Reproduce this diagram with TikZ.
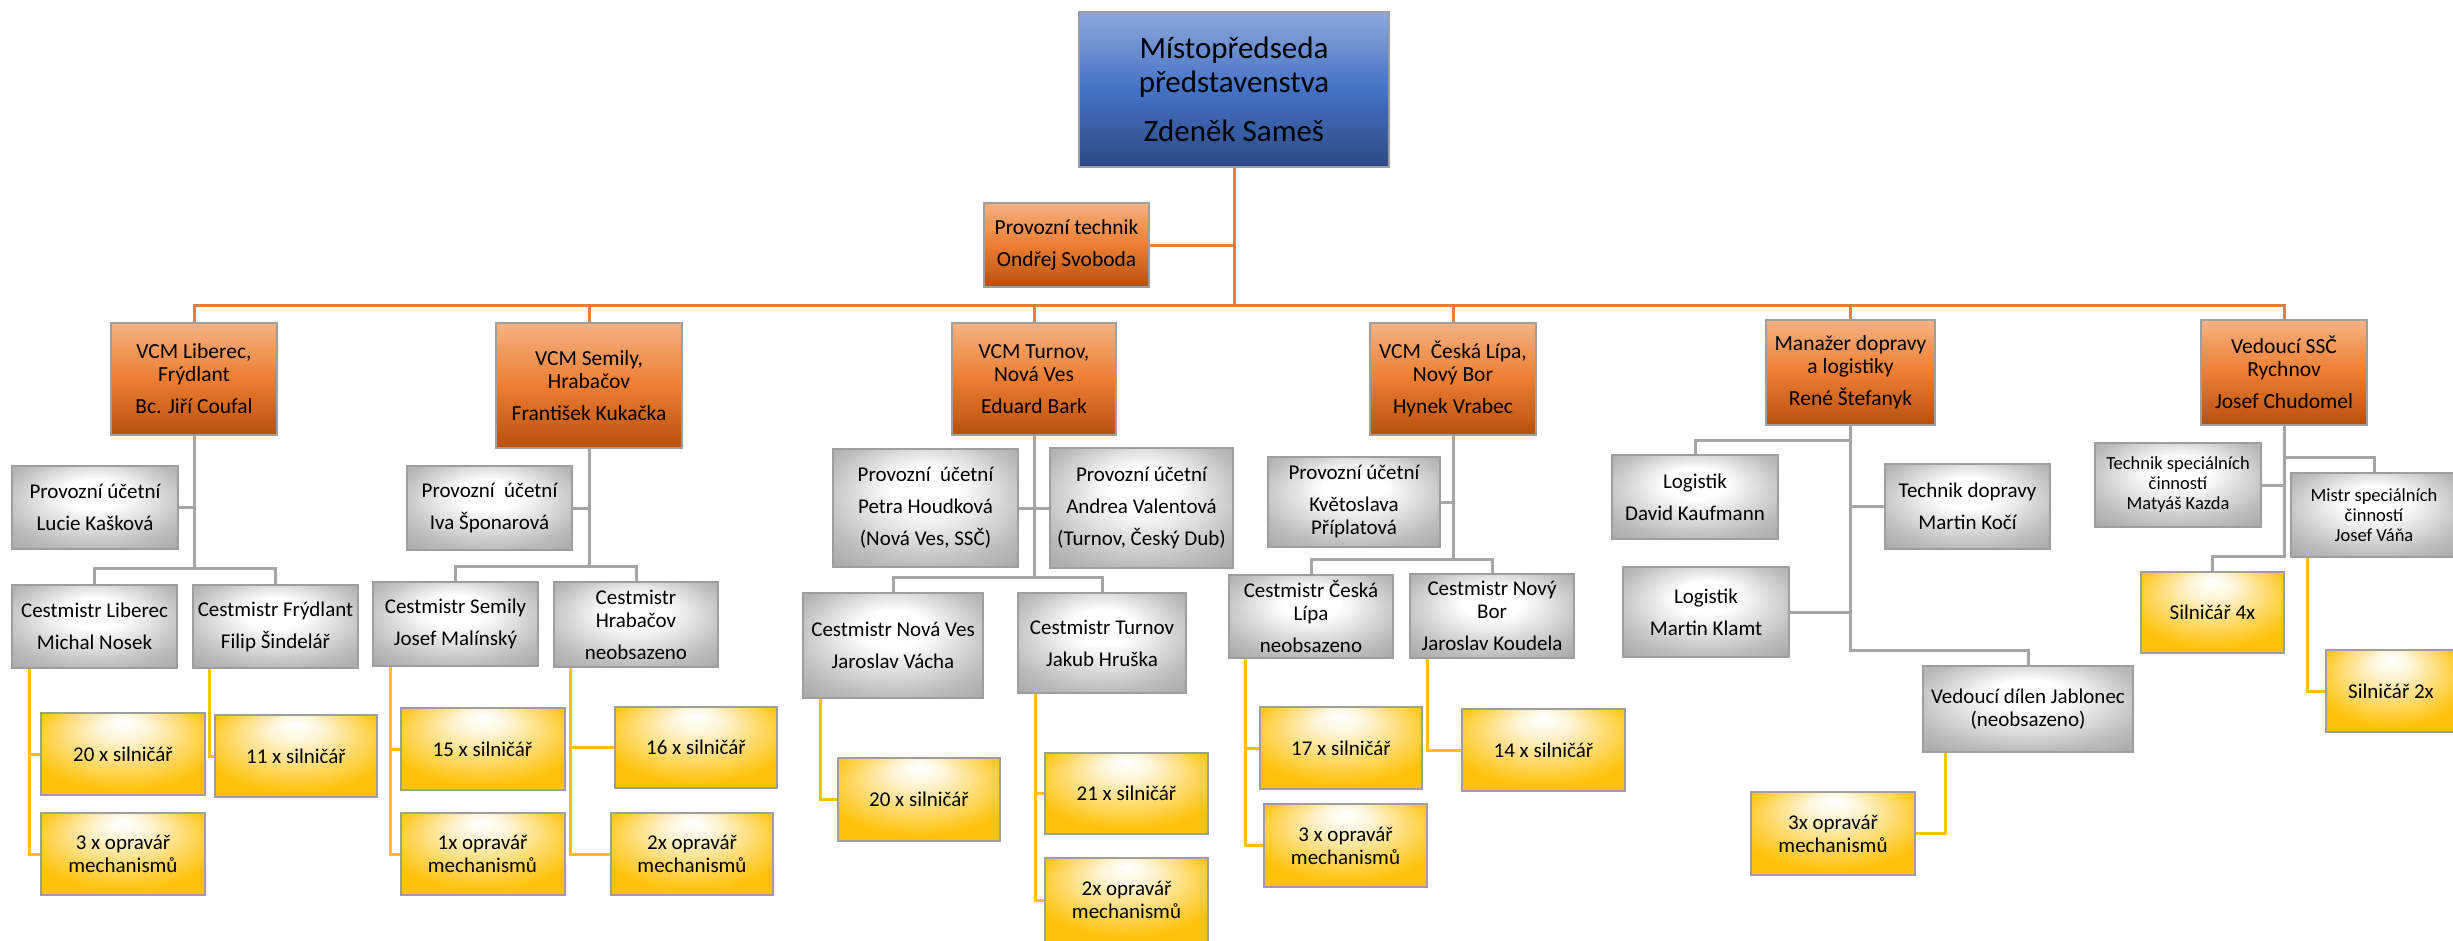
\documentclass[tikz,border=0pt]{standalone}
\usepackage{fontspec}
\setmainfont{Carlito}
\usetikzlibrary{calc,positioning}

\definecolor{boxline}{RGB}{158,158,158}
\definecolor{conngrey}{RGB}{165,165,165}
\definecolor{connorange}{RGB}{237,125,49}
\definecolor{connyellow}{RGB}{255,192,0}
\definecolor{bluetop}{RGB}{140,168,220}
\definecolor{bluemid}{RGB}{68,114,196}
\definecolor{bluebot}{RGB}{44,74,134}
\definecolor{orngtop}{RGB}{245,178,130}
\definecolor{orngmid}{RGB}{237,125,49}
\definecolor{orngbot}{RGB}{182,80,14}
\definecolor{greymid}{RGB}{188,188,188}
\definecolor{greyedge}{RGB}{150,150,150}
\definecolor{ylwlight}{RGB}{255,246,222}
\definecolor{ylwedge}{RGB}{255,194,10}

\pgfdeclareradialshading{greyshade}{\pgfpoint{0bp}{10bp}}{color(0bp)=(white); color(9bp)=(white); color(28bp)=(greymid); color(45bp)=(greyedge)}
\pgfdeclareradialshading{yellowshade}{\pgfpoint{0bp}{20bp}}{color(0bp)=(white); color(7bp)=(ylwlight); color(30bp)=(ylwedge); color(50bp)=(ylwedge)}

\tikzset{
  card/.style={draw=boxline, line width=2pt, align=center, inner sep=1pt, text=black},
  boxsize/.style 2 args={minimum width=#1pt, minimum height=#2pt},
  chief/.style={card, top color=bluetop, bottom color=bluebot, middle color=bluemid, font=\fontsize{31}{34}\selectfont},
  head/.style={card, top color=orngtop, bottom color=orngbot, middle color=orngmid, font=\fontsize{21.5}{23}\selectfont},
  staff/.style={card, shade, shading=greyshade, font=\fontsize{21}{23}\selectfont},
  staffsmall/.style={staff, font=\fontsize{18.5}{20}\selectfont},
  crew/.style={card, shade, shading=yellowshade, boxsize={164}{82}, font=\fontsize{21}{23}\selectfont},
  oline/.style={draw=connorange, line width=3pt},
  gline/.style={draw=conngrey, line width=3pt},
  yline/.style={draw=connyellow, line width=3pt},
}

\begin{document}
\begin{tikzpicture}[x=1pt,y=-1pt]
  \useasboundingbox (0,0) rectangle (2453,940);

  \node[chief, boxsize={310}{155}] (vice) at (1234,89.5) {Místopředseda\\představenstva\\[15pt]Zdeněk Sameš};
  \node[head, boxsize={165}{84}] (tech) at (1066.5,245) {Provozní technik\\[9pt]Ondřej Svoboda};

  \node[head, boxsize={166}{112}] (liberec) at (194,379) {VCM Liberec,\\Frýdlant\\[9pt]Bc. Jiří Coufal};
  \node[head, boxsize={186}{125}] (semily) at (589,385.5) {VCM Semily,\\Hrabačov\\[9pt]František Kukačka};
  \node[head, boxsize={164}{112}] (turnov) at (1034,379) {VCM Turnov,\\Nová Ves\\[9pt]Eduard Bark};
  \node[head, boxsize={166}{112}] (lipa) at (1453,379) {VCM~~Česká Lípa,\\Nový Bor\\[9pt]Hynek Vrabec};
  \node[head, boxsize={169}{105}] (doprava) at (1850.5,372.5) {Manažer dopravy\\a logistiky\\[9pt]René Štefanyk};
  \node[head, boxsize={166}{105}] (rychnov) at (2284,372.5) {Vedoucí SSČ\\Rychnov\\[9pt]Josef Chudomel};

  \node[staff, boxsize={166}{83}] (kaskova) at (95,507.5) {Provozní účetní\\[9pt]Lucie Kašková};
  \node[staff, boxsize={165}{83}] (nosek) at (94.5,626.5) {Cestmistr Liberec\\[9pt]Michal Nosek};
  \node[staff, boxsize={165}{83}] (sindelar) at (275.5,626.5) {Cestmistr Frýdlant\\[9pt]Filip Šindelář};
  \node[staff, boxsize={165}{84}] (sponarova) at (489.5,508) {Provozní~~účetní\\[9pt]Iva Šponarová};
  \node[staff, boxsize={165}{84}] (malinsky) at (455.5,624) {Cestmistr Semily\\[9pt]Josef Malínský};
  \node[staff, boxsize={164}{85}] (hrabacov) at (636,624.5) {Cestmistr\\Hrabačov\\[9pt]neobsazeno};
  \node[staff, boxsize={185}{118}] (houdkova) at (925.5,508) {Provozní~~účetní\\[9pt]Petra Houdková\\[9pt](Nová Ves, SSČ)};
  \node[staff, boxsize={183}{120}] (valentova) at (1141.5,508) {Provozní účetní\\[9pt]Andrea Valentová\\[9pt](Turnov, Český Dub)};
  \node[staff, boxsize={180}{105}] (vacha) at (893,645.5) {Cestmistr Nová Ves\\[9pt]Jaroslav Vácha};
  \node[staff, boxsize={168}{100}] (hruska) at (1102,643) {Cestmistr Turnov\\[9pt]Jakub Hruška};
  \node[staff, boxsize={172}{90}] (priplatova) at (1354,502) {Provozní účetní\\[9pt]Květoslava\\Příplatová};
  \node[staff, boxsize={164}{83}] (lipacm) at (1311,616.5) {Cestmistr Česká\\Lípa\\[9pt]neobsazeno};
  \node[staff, boxsize={164}{84}] (koudela) at (1492,616) {Cestmistr Nový\\Bor\\[9pt]Jaroslav Koudela};
  \node[staff, boxsize={166}{84}] (kaufmann) at (1695,497) {Logistik\\[9pt]David Kaufmann};
  \node[staff, boxsize={165}{85}] (koci) at (1967.5,506.5) {Technik dopravy\\[9pt]Martin Kočí};
  \node[staff, boxsize={166}{90}] (klamt) at (1706,612) {Logistik\\[9pt]Martin Klamt};
  \node[staff, boxsize={210}{86}] (dilna) at (2028,709) {Vedoucí dílen Jablonec\\(neobsazeno)};
  \node[staffsmall, boxsize={166}{84}] (kazda) at (2178,485) {Technik speciálních\\činností\\Matyáš Kazda};
  \node[staffsmall, boxsize={166}{84}] (vana) at (2374,515) {Mistr speciálních\\činností\\Josef Váňa};

  \node[crew] (libsil) at (123,754) {20 x silničář};
  \node[crew] (libopr) at (123,854) {3 x opravář\\mechanismů};
  \node[crew, boxsize={162}{82}] (frysil) at (296,756) {11 x silničář};
  \node[crew] (semsil) at (482.5,749) {15 x silničář};
  \node[crew] (semopr) at (482.5,854) {1x opravář\\mechanismů};
  \node[crew, boxsize={162}{81}] (hrasil) at (696,747.5) {16 x silničář};
  \node[crew, boxsize={162}{82}] (hraopr) at (692,854) {2x opravář\\mechanismů};
  \node[crew, boxsize={162}{83}] (novsil) at (919,799.5) {20 x silničář};
  \node[crew, boxsize={163}{81}] (tursil) at (1126.5,793.5) {21 x silničář};
  \node[crew, boxsize={163}{84}] (turopr) at (1126.5,900) {2x opravář\\mechanismů};
  \node[crew, boxsize={162}{82}] (lipsil) at (1341,748) {17 x silničář};
  \node[crew, boxsize={163}{83}] (lipopr) at (1345.5,845.5) {3 x opravář\\mechanismů};
  \node[crew, boxsize={163}{82}] (borsil) at (1543.5,750) {14 x silničář};
  \node[crew, boxsize={164}{83}] (dilopr) at (1833,833.5) {3x opravář\\mechanismů};
  \node[crew, boxsize={143}{81}] (ssc4) at (2212.5,612.5) {Silničář 4x};
  \node[crew, boxsize={130}{82}] (ssc2) at (2391,691) {Silničář 2x};

  \coordinate (bus) at (1234,305);
  \coordinate (libfork) at (194,568);
  \coordinate (semfork) at (589,566);
  \coordinate (turfork) at (1034,577);
  \coordinate (lipfork) at (1453,559);
  \coordinate (kaufjoin) at (1850.5,440);
  \coordinate (dopfork) at (1850.5,650);
  \coordinate (vanajoin) at (2284,457);
  \coordinate (rycfork) at (2284,556);

  \draw[oline] (vice.south) -- (bus);
  \draw[oline] (tech.east) -- (tech.east -| vice.south);
  \foreach \h in {liberec,semily,turnov,lipa,doprava,rychnov}
    \draw[oline] (bus) -| (\h.north);

  \draw[gline] (liberec.south) -- (libfork);
  \draw[gline] (kaskova.east) -- (kaskova.east -| liberec.south);
  \draw[gline] (nosek.north) |- (libfork) -| (sindelar.north);
  \draw[gline] (semily.south) -- (semfork);
  \draw[gline] (sponarova.east) -- (sponarova.east -| semily.south);
  \draw[gline] (malinsky.north) |- (semfork) -| (hrabacov.north);
  \draw[gline] (turnov.south) -- (turfork);
  \draw[gline] (houdkova.east) -- (valentova.west);
  \draw[gline] (vacha.north) |- (turfork) -| (hruska.north);
  \draw[gline] (lipa.south) -- (lipfork);
  \draw[gline] (priplatova.east) -- (priplatova.east -| lipa.south);
  \draw[gline] (lipacm.north) |- (lipfork) -| (koudela.north);
  \draw[gline] (doprava.south) -- (dopfork) -| (dilna.north);
  \draw[gline] (kaufjoin) -| (kaufmann.north);
  \draw[gline] (koci.west) -- (koci.west -| doprava.south);
  \draw[gline] (klamt.east) -- (klamt.east -| doprava.south);
  \draw[gline] (rychnov.south) -- (rycfork) -| (ssc4.north);
  \draw[gline] (kazda.east) -- (kazda.east -| rychnov.south);
  \draw[gline] (vanajoin) -| (vana.north);

  \draw[yline] ([xshift=18pt]nosek.south west) |- (libsil.west);
  \draw[yline] ([xshift=18pt]nosek.south west) |- (libopr.west);
  \draw[yline] ([xshift=17pt]sindelar.south west) |- (frysil.west);
  \draw[yline] ([xshift=18pt]malinsky.south west) |- (semsil.west);
  \draw[yline] ([xshift=18pt]malinsky.south west) |- (semopr.west);
  \draw[yline] ([xshift=17pt]hrabacov.south west) |- (hrasil.west);
  \draw[yline] ([xshift=17pt]hrabacov.south west) |- (hraopr.west);
  \draw[yline] ([xshift=18pt]vacha.south west) |- (novsil.west);
  \draw[yline] ([xshift=18pt]hruska.south west) |- (tursil.west);
  \draw[yline] ([xshift=18pt]hruska.south west) |- (turopr.west);
  \draw[yline] ([xshift=17pt]lipacm.south west) |- (lipsil.west);
  \draw[yline] ([xshift=17pt]lipacm.south west) |- (lipopr.west);
  \draw[yline] ([xshift=18pt]koudela.south west) |- (borsil.west);
  \draw[yline] ([xshift=23pt]dilna.south west) |- (dilopr.east);
  \draw[yline] ([xshift=17pt]vana.south west) |- (ssc2.west);
\end{tikzpicture}
\end{document}
